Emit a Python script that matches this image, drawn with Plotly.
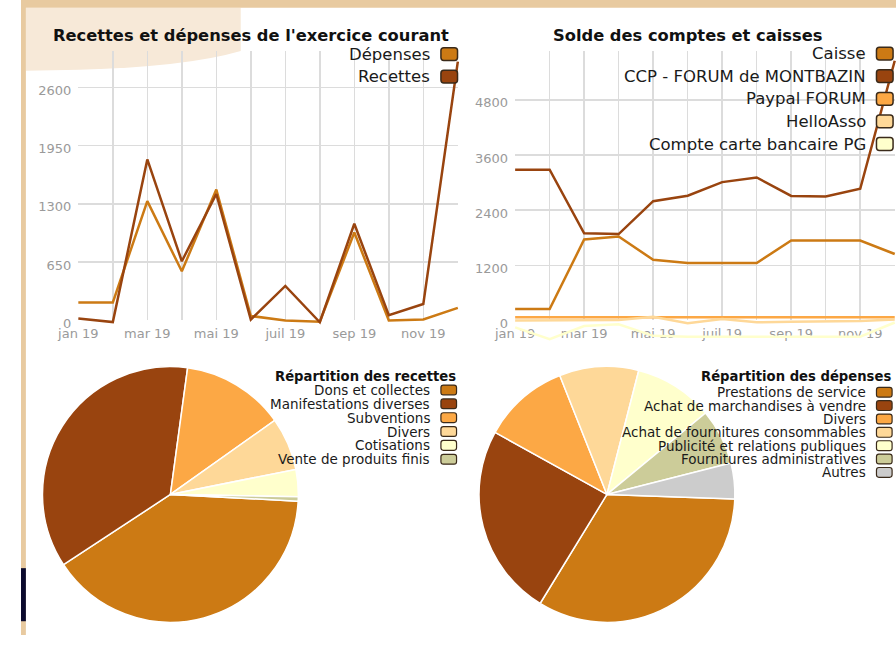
import plotly.graph_objects as go

W, H = 896, 646

# données
mois = ["jan 19", "févr 19", "mar 19", "avr 19", "mai 19", "juin 19",
        "juil 19", "août 19", "sep 19", "oct 19", "nov 19", "déc 19"]
depenses = [200, 200, 1330, 548, 1460, 50, 0, -15, 980, 0, 10, 140]
recettes = [22, -18, 1795, 660, 1410, 10, 385, -20, 1078, 58, 183, 2886]

comptes = ["Caisse", "CCP - FORUM de MONTBAZIN", "Paypal FORUM", "HelloAsso",
           "Compte carte bancaire PG"]
caisse = [250, 250, 1760, 1825, 1320, 1250, 1250, 1250, 1740, 1740, 1740, 1445]
ccp = [3280, 3280, 1895, 1880, 2595, 2715, 3010, 3110, 2710, 2695, 2865, 5650]
paypal = [70, 70, 70, 70, 75, 70, 70, 70, 70, 70, 70, 70]
helloasso = [0, 0, 10, 10, 80, -60, 30, -40, -30, -20, -10, 20]
carte_pg = [-150, -405, -120, -85, -335, -355, -355, -355, -355, -355, -355, -45]

recettes_cat = ["Dons et collectes", "Manifestations diverses", "Subventions",
                "Divers", "Cotisations", "Vente de produits finis"]
recettes_val = [3370, 3075, 1100, 565, 290, 45]
depenses_cat = ["Prestations de service", "Achat de marchandises à vendre", "Divers",
                "Achat de fournitures consommables", "Publicité et relations publiques",
                "Fournitures administratives", "Autres"]
depenses_val = [1625, 1190, 535, 490, 490, 345, 220]

COLORS = ["#cc7a14", "#99440f", "#fca845", "#fed898", "#ffffcc", "#cccc99", "#cccccc"]
FONT = "DejaVu Sans"
GRID = "#dcdcdc"
TICK = "#9a9a9a"
PARCH = "#e8caa0"


# pixels -> coordonnées papier
def px(x):
    return x / W


def py(y):
    return 1 - y / H


def rrect(x0, y0, x1, y1, r=3):
    # rectangle arrondi en pixels -> chemin en coordonnées papier
    pts = [
        f"M {px(x0 + r)},{py(y0)}", f"L {px(x1 - r)},{py(y0)}",
        f"Q {px(x1)},{py(y0)} {px(x1)},{py(y0 + r)}", f"L {px(x1)},{py(y1 - r)}",
        f"Q {px(x1)},{py(y1)} {px(x1 - r)},{py(y1)}", f"L {px(x0 + r)},{py(y1)}",
        f"Q {px(x0)},{py(y1)} {px(x0)},{py(y1 - r)}", f"L {px(x0)},{py(y0 + r)}",
        f"Q {px(x0)},{py(y0)} {px(x0 + r)},{py(y0)}", "Z",
    ]
    return " ".join(pts)


fig = go.Figure()
shapes = []
annotations = []

# fond de page (parchemin)
shapes.append(dict(type="path", xref="paper", yref="paper", layer="below",
                   path=f"M {px(5)},{py(8)} L {px(225)},{py(8)} L {px(225)},{py(52)} "
                        f"Q {px(170)},{py(68)} {px(60)},{py(71)} L {px(5)},{py(72)} Z",
                   fillcolor="#f7e9d8", line=dict(width=0)))
shapes.append(dict(type="rect", xref="paper", yref="paper", layer="below",
                   x0=0, x1=1, y0=py(8), y1=1, fillcolor=PARCH, line=dict(width=0)))
shapes.append(dict(type="rect", xref="paper", yref="paper", layer="below",
                   x0=0, x1=px(5), y0=0, y1=1, fillcolor=PARCH, line=dict(width=0)))
shapes.append(dict(type="rect", xref="paper", yref="paper", layer="below",
                   x0=0, x1=px(5), y0=py(632), y1=py(578), fillcolor="#0b0a2e",
                   line=dict(width=0)))

layout_axes = {}
idx = list(range(len(mois)))


def line_panel(k, x0, x1, y_top, y_zero, y_low, ymax, yticks, title, title_x,
               names, series, cols, leg_right, leg_y):
    g, d = 2 * k + 1, 2 * k + 2
    gs = "" if g == 1 else str(g)
    n = len(idx) - 1
    step = (x1 - x0) / n
    el = 4
    er = min(4, W - x1)
    # axes de la grille
    layout_axes["xaxis" + gs] = dict(
        domain=[px(x0), px(x1)], range=[0, n], anchor="y" + gs,
        tickvals=idx[::2], ticktext=mois[::2], showgrid=True, gridcolor=GRID,
        gridwidth=1.5, zeroline=False, showline=False, ticks="",
        tickfont=dict(size=13, color=TICK, family=FONT), ticklabelstandoff=4,
        minor=dict(tickvals=idx, showgrid=True, gridcolor=GRID, gridwidth=1.5),
    )
    layout_axes["yaxis" + gs] = dict(
        domain=[py(y_zero), py(y_top)], range=[0, ymax], anchor="x" + gs,
        tickvals=yticks, showgrid=True, gridcolor=GRID, gridwidth=1.5,
        zeroline=False, showline=False, ticks="", ticklabelstandoff=6, ticklabelshift=3,
        tickfont=dict(size=13, color=TICK, family=FONT),
    )
    # trace vide pour que la grille soit dessinée
    fig.add_trace(go.Scatter(x=[None], y=[None], xaxis="x" + gs, yaxis="y" + gs,
                             showlegend=False, hoverinfo="skip"))
    # axes des données (même échelle, zone élargie pour ne pas couper les courbes)
    scale = ymax / (y_zero - y_top)
    layout_axes[f"xaxis{d}"] = dict(
        domain=[px(x0 - el), min(1, px(x1 + er))], range=[-el / step, n + er / step],
        anchor=f"y{d}", visible=False,
    )
    layout_axes[f"yaxis{d}"] = dict(
        domain=[py(y_low), py(y_top)], range=[-(y_low - y_zero) * scale, ymax],
        anchor=f"x{d}", visible=False,
    )
    for name, vals, col in zip(names, series, cols):
        fig.add_trace(go.Scatter(x=idx, y=vals, name=name, mode="lines",
                                 xaxis=f"x{d}", yaxis=f"y{d}", showlegend=False,
                                 line=dict(color=col, width=2.5)))
    annotations.append(dict(text=f"<b>{title}</b>", x=px(title_x), y=py(36),
                            xref="paper", yref="paper", showarrow=False,
                            xanchor="center", yanchor="middle",
                            font=dict(size=16.3, color="#111", family=FONT)))
    for i, (name, col) in enumerate(zip(names, cols)):
        yc = leg_y + 23 * i
        annotations.append(dict(text=name, x=px(leg_right), y=py(yc), xref="paper",
                                yref="paper", showarrow=False, xanchor="right",
                                yanchor="middle",
                                font=dict(size=16.5, color="#1a1a1a", family=FONT)))
        shapes.append(dict(type="path", xref="paper", yref="paper",
                           path=rrect(leg_right + 9, yc - 6.5, leg_right + 26, yc + 6.5),
                           fillcolor=col, line=dict(color="#3a2a1a", width=1.5)))


line_panel(0, 58.7, 447.3, 52, 326, 346, 3003, [0, 650, 1300, 1950, 2600],
           "Recettes et dépenses de l'exercice courant", 236, ["Dépenses", "Recettes"],
           [depenses, recettes], COLORS[:2], 421, 55)
line_panel(1, 506, 894.7, 52, 326, 360, 5860, [0, 1200, 2400, 3600, 4800],
           "Solde des comptes et caisses", 682, comptes,
           [caisse, ccp, paypal, helloasso, carte_pg], COLORS[:5], 867, 54.5)


def pie_panel(cx, cy, r, cats, vals, rot, title, title_right, title_y, item_y, item_dy):
    fig.add_trace(go.Pie(
        labels=cats, values=vals, sort=False, direction="clockwise", rotation=rot,
        domain=dict(x=[px(cx - r), px(cx + r)], y=[py(cy + r), py(cy - r)]),
        marker=dict(colors=COLORS[:len(cats)], line=dict(color="white", width=1.5)),
        textinfo="none", showlegend=False,
    ))
    annotations.append(dict(text=f"<b>{title}</b>", x=px(title_right), y=py(title_y),
                            xref="paper", yref="paper", showarrow=False,
                            xanchor="right", yanchor="middle",
                            font=dict(size=13.2, color="#111", family=FONT)))
    tr = title_right - 26
    for i, (cat, col) in enumerate(zip(cats, COLORS)):
        yc = item_y + item_dy * i
        annotations.append(dict(text=cat, x=px(tr), y=py(yc), xref="paper", yref="paper",
                                showarrow=False, xanchor="right", yanchor="middle",
                                font=dict(size=13.5, color="#1a1a1a", family=FONT)))
        shapes.append(dict(type="path", xref="paper", yref="paper",
                           path=rrect(tr + 9, yc - 5, tr + 25, yc + 5, r=2.5),
                           fillcolor=col, line=dict(color="#3a2a1a", width=1.2)))


pie_panel(153, 503, 131, recettes_cat, recettes_val, 93,
          "Répartition des recettes", 447, 383, 396.7, 14.1)
pie_panel(600, 503, 131, depenses_cat, depenses_val, 92,
          "Répartition des dépenses", 893, 382.7, 399, 13.6)

fig.update_layout(
    width=W, height=H, margin=dict(l=0, r=0, t=0, b=0),
    paper_bgcolor="white", plot_bgcolor="rgba(0,0,0,0)",
    font=dict(family=FONT), showlegend=False,
    shapes=shapes, annotations=annotations, **layout_axes,
)

# page sans marge, bornée à la taille de la fenêtre (rien ne déborde)
page_css = (
    "var s=[document.documentElement.style, document.body.style];"
    "s.forEach(function(t){t.margin='0';t.padding='0';t.overflow='hidden';"
    f"t.width='{W}px';t.height='{H}px';}});"
)
fig.write_html("out.html", config={"staticPlot": True}, post_script=page_css)
